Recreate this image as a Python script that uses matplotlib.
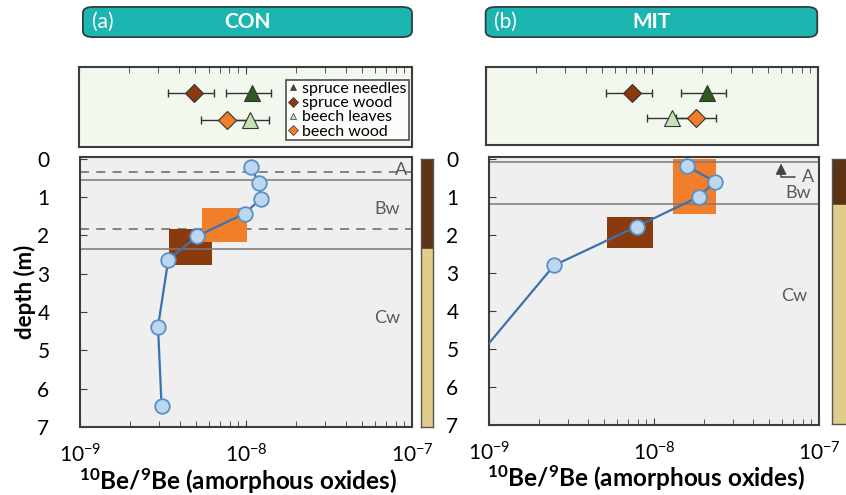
import numpy as np
import matplotlib
matplotlib.use('Agg')
import matplotlib.pyplot as plt
from matplotlib.patches import FancyBboxPatch, Rectangle
from matplotlib.lines import Line2D
from matplotlib.ticker import LogLocator, NullFormatter

plt.rcParams['font.family'] = ['Lato', 'DejaVu Sans']
plt.rcParams['mathtext.fontset'] = 'custom'
plt.rcParams['mathtext.rm'] = 'Lato'
plt.rcParams['mathtext.bf'] = 'Lato:bold'

# soil profiles: 10Be/9Be ratio vs depth (m)
con_ratio = [1.07e-8, 1.20e-8, 1.23e-8, 9.8e-9, 5.1e-9, 3.4e-9, 2.95e-9, 3.1e-9]
con_depth = [0.22, 0.64, 1.04, 1.43, 2.01, 2.64, 4.38, 6.46]
mit_ratio = [1.59e-8, 2.34e-8, 1.88e-8, 7.85e-9, 2.48e-9, 6.0e-10]
mit_depth = [0.19, 0.60, 0.99, 1.78, 2.80, 6.0]

# boxes: (ratio min, ratio max, depth top, depth bottom)
con_box_orange = (5.45e-9, 1.02e-8, 1.27, 2.17)
con_box_brown = (3.43e-9, 6.27e-9, 1.82, 2.76)
mit_box_orange = (1.30e-8, 2.38e-8, 0.0, 1.45)
mit_box_brown = (5.16e-9, 9.8e-9, 1.54, 2.34)

# horizon boundaries and labels
con_dashed = [0.34, 1.82]
con_solid = [0.55, 2.34]
con_labels = ['A', 'Bw', 'Cw']
con_label_depth = [0.29, 1.3, 4.15]
mit_solid = [0.08, 1.18]
mit_labels = ['A', 'Bw', 'Cw']
mit_label_depth = [0.47, 0.9, 3.6]
con_bar_split = 2.34
mit_bar_split = 1.2

# vegetation values: value, low, high
plants = ['spruce needles', 'spruce wood', 'beech leaves', 'beech wood']
con_plant = [1.09e-8, 4.93e-9, 1.06e-8, 7.76e-9]
con_plant_lo = [7.66e-9, 3.4e-9, 8.0e-9, 5.4e-9]
con_plant_hi = [1.43e-8, 6.44e-9, 1.38e-8, 1.05e-8]
mit_plant = [2.15e-8, 7.6e-9, 1.32e-8, 1.85e-8]
mit_plant_lo = [1.49e-8, 5.3e-9, 9.3e-9, 1.4e-8]
mit_plant_hi = [2.8e-8, 1.0e-8, 1.75e-8, 2.42e-8]

plant_row = [0.67, 0.67, 0.34, 0.34]
plant_marker = ['^', 'D', '^', 'D']
plant_color = ['#2f5a1e', '#8b3a0e', '#c6e3b5', '#f07e2a']

SPINE = '#3c3c3c'
ORANGE = '#f07e2a'
BROWN = '#8b3a0e'
LABEL_GREY = '#5a5a5a'

fig = plt.figure(figsize=(8.46, 4.95), dpi=100)


def style_spines(ax):
    for s in ax.spines.values():
        s.set_color(SPINE)
        s.set_linewidth(1.5)


def banner(x0, x1, letter, title):
    y0, y1 = 0.925, 0.986
    p = FancyBboxPatch((x0, y0), x1 - x0, y1 - y0, boxstyle='round,pad=0,rounding_size=0.012',
                       transform=fig.transFigure, facecolor='#1db5b0', edgecolor='#2f3f3f', lw=1.3)
    fig.patches.append(p)
    fig.text(x0 + 0.024, (y0 + y1) / 2, letter, color='white', fontsize=15, va='center', ha='center')
    fig.text((x0 + x1) / 2, (y0 + y1) / 2, title, color='white', fontsize=15, fontweight='bold',
             va='center', ha='center')


def plant_panel(rect, vals, lo, hi, legend):
    ax = fig.add_axes(rect)
    ax.set_facecolor('#f3f8ef')
    ax.set_xscale('log')
    ax.set_xlim(1e-9, 1e-7)
    ax.set_ylim(0, 1)
    for i in range(len(plants)):
        v = vals[i]
        ax.errorbar([v], [plant_row[i]], xerr=[[v - lo[i]], [hi[i] - v]], fmt='none',
                    ecolor='#333333', elinewidth=1, capsize=3, zorder=2)
        ax.plot([v], [plant_row[i]], marker=plant_marker[i], ms=11 if plant_marker[i] == '^' else 9,
                color=plant_color[i], mec='#333333', mew=0.8, ls='none', zorder=3)
    ax.xaxis.tick_top()
    ax.xaxis.set_major_locator(LogLocator(base=10))
    ax.xaxis.set_minor_locator(LogLocator(base=10, subs=np.arange(2, 10)))
    ax.tick_params(axis='x', which='both', direction='in', top=True, bottom=False,
                   labeltop=False, labelbottom=False, color=SPINE)
    ax.tick_params(axis='x', which='major', length=5)
    ax.tick_params(axis='x', which='minor', length=4)
    ax.set_yticks([])
    style_spines(ax)
    if legend:
        handles = [Line2D([], [], marker=plant_marker[i], color=plant_color[i], mec='#333333', mew=0.5,
                          ls='none', ms=5) for i in range(len(plants))]
        leg = ax.legend(handles, plants, loc='center right', bbox_to_anchor=(0.99, 0.46), fontsize=11.5,
                        frameon=True, fancybox=False, edgecolor='#222222', handlelength=0.6,
                        handletextpad=0.3, labelspacing=0.0, borderpad=0.12, borderaxespad=0)
        leg.get_frame().set_linewidth(1.2)
        leg.get_frame().set_facecolor('white')
    return ax


def profile_panel(rect, ratio, depth, box_o, box_b, dashed, solid, ylabel):
    ax = fig.add_axes(rect)
    ax.set_facecolor('#efefef')
    ax.set_xscale('log')
    ax.set_xlim(1e-9, 1e-7)
    ax.set_ylim(7, -0.05)
    for d in dashed:
        ax.axhline(d, color='#7a7a7a', lw=1.3, ls=(0, (5, 4)), zorder=1)
    for box, col in [(box_b, BROWN), (box_o, ORANGE)]:
        ax.add_patch(Rectangle((box[0], box[2]), box[1] - box[0], box[3] - box[2],
                               facecolor=col, edgecolor='none', zorder=2))
    for d in solid:
        ax.axhline(d, color='#7a7a7a', lw=1.3, alpha=0.85, zorder=2.5)
    ax.plot(ratio, depth, color='#3a72b0', lw=1.6, marker='o', ms=10.5, mfc='#bcd8f0',
            mec='#5b8fc7', mew=1.3, zorder=4)
    ax.set_yticks(range(8))
    ax.xaxis.set_major_locator(LogLocator(base=10))
    ax.xaxis.set_minor_locator(LogLocator(base=10, subs=np.arange(2, 10)))
    ax.xaxis.set_minor_formatter(NullFormatter())
    ax.tick_params(axis='both', which='both', direction='in', color=SPINE, labelsize=15)
    ax.tick_params(axis='x', which='major', length=5, pad=12)
    ax.tick_params(axis='x', which='minor', length=4)
    ax.tick_params(axis='y', length=5, pad=22)
    ax.set_xlabel(r'$\mathbf{^{10}Be/^{9}Be}$ (amorphous oxides)', fontsize=17.5, fontweight='bold')
    ax.xaxis.set_label_coords(0.475, -0.2)
    ax.xaxis.label.set_va('center')
    if ylabel:
        ax.set_ylabel('depth (m)', fontsize=16, fontweight='bold', labelpad=1)
    style_spines(ax)
    return ax


def horizon_bar(rect, split):
    ax = fig.add_axes(rect)
    ax.set_ylim(7, 0)
    ax.set_xlim(0, 1)
    ax.axhspan(0, split, color='#5a3414')
    ax.axhspan(split, 7, color='#e0cd8a')
    ax.set_xticks([])
    ax.set_yticks([])
    for s in ax.spines.values():
        s.set_color('#555555')
        s.set_linewidth(1)
    return ax


def horizon_text(ax, x, depth, label):
    ax.text(x, depth, label, transform=ax.get_yaxis_transform(), ha='right', va='center',
            fontsize=13, color=LABEL_GREY)


# (a) CON
banner(0.098, 0.487, '(a)', 'CON')
plant_panel([0.0934, 0.703, 0.3936, 0.1616], con_plant, con_plant_lo, con_plant_hi, True)
ax1 = profile_panel([0.0946, 0.1374, 0.3924, 0.5455], con_ratio, con_depth, con_box_orange,
                    con_box_brown, con_dashed, con_solid, True)
horizon_text(ax1, 0.985, con_label_depth[0], con_labels[0])
horizon_text(ax1, 0.965, con_label_depth[1], con_labels[1])
horizon_text(ax1, 0.965, con_label_depth[2], con_labels[2])
horizon_bar([0.4976, 0.1374, 0.0142, 0.5414], con_bar_split)

# (b) MIT
banner(0.574, 0.966, '(b)', 'MIT')
plant_panel([0.5745, 0.707, 0.3924, 0.158], mit_plant, mit_plant_lo, mit_plant_hi, False)
ax2 = profile_panel([0.578, 0.1414, 0.390, 0.5414], mit_ratio, mit_depth, mit_box_orange,
                    mit_box_brown, [], mit_solid, False)
ax2.annotate(mit_labels[0], xy=(5.9e-8, 0.12), xytext=(0.985, mit_label_depth[0]),
             textcoords=ax2.get_yaxis_transform(), ha='right', va='center', fontsize=13,
             color=LABEL_GREY,
             arrowprops=dict(arrowstyle='-|>', color='#444444', lw=1.1, mutation_scale=16,
                             shrinkA=3, shrinkB=0,
                             connectionstyle='angle,angleA=180,angleB=90,rad=0'))
horizon_text(ax2, 0.975, mit_label_depth[1], mit_labels[1])
horizon_text(ax2, 0.965, mit_label_depth[2], mit_labels[2])
horizon_bar([0.9835, 0.1434, 0.025, 0.535], mit_bar_split)

fig.savefig('out.png', dpi=100)
